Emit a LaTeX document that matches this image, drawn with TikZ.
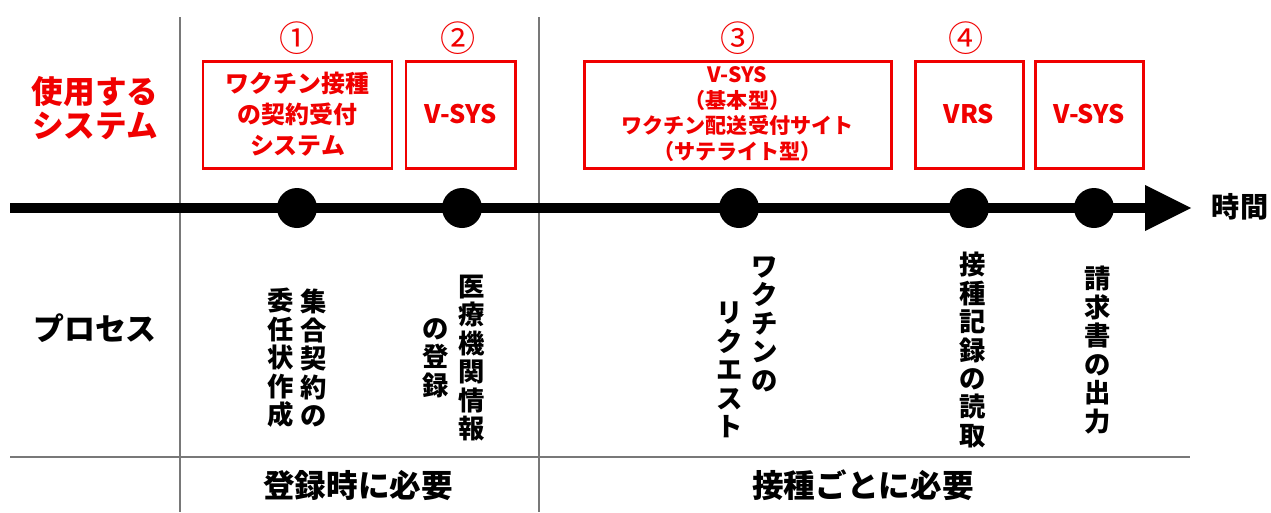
\documentclass[tikz,border=0pt]{standalone}
\usepackage{fontspec}
\setmainfont{Noto Sans CJK JP}
\usetikzlibrary{arrows.meta}
\definecolor{sysred}{RGB}{240,0,0}
\definecolor{rule}{RGB}{120,120,120}
\tikzset{
  sysbox/.style={draw=sysred, line width=1.7pt, inner sep=0pt},
  systext/.style={text=sysred, font=\bfseries\fontsize{13.6}{17.6}\selectfont, align=center, inner sep=0pt},
  smalltext/.style={text=sysred, font=\bfseries\fontsize{12}{14.6}\selectfont, align=center, inner sep=0pt},
  latintext/.style={text=sysred, font=\bfseries\fontsize{14.5}{17}\selectfont, inner sep=0pt},
  numtext/.style={text=sysred, font=\fontsize{20}{22}\selectfont, inner sep=0pt},
  headred/.style={text=sysred, font=\bfseries\fontsize{18}{19}\selectfont, align=center, inner sep=0pt},
  headblack/.style={text=black, font=\bfseries\fontsize{17.6}{19}\selectfont, align=center, inner sep=0pt},
  vcol/.style={text=black, font=\bfseries\fontsize{15}{16.2}\selectfont, align=center, inner sep=0pt},
  foot/.style={text=black, font=\bfseries\fontsize{18}{19}\selectfont, inner sep=0pt},
  dot/.style={circle, fill=black, minimum size=0.8cm, inner sep=0pt},
  grid/.style={draw=rule, line width=0.9pt},
  timeline/.style={line width=5.7pt, -{Triangle[length=0.94cm,width=0.86cm]}}
}
\begin{document}
\begin{tikzpicture}[x=0.02cm, y=-0.02cm]
\useasboundingbox (0,0) rectangle (1271,512);
% grid lines
\draw[grid] (180,17) -- (180,512);
\draw[grid] (539,17) -- (539,512);
\draw[grid] (10,457) -- (1190,457);
% timeline
\coordinate (tstart) at (10,208);
\coordinate (tend) at (1192,208);
\draw[timeline] (tstart) -- (tend);
\node[text=black, font=\bfseries\fontsize{16}{18}\selectfont, inner sep=0pt] (time) at (1240,207) {時間};
% dots
\node[dot] (d1) at (297,208) {};
\node[dot] (d2) at (462,208) {};
\node[dot] (d3) at (739,208) {};
\node[dot] (d4) at (969,208) {};
\node[dot] (d5) at (1094,208) {};
% left headings
\node[headred] (use) at (95,108) {使用する\\システム};
\node[headblack] (proc) at (95,328) {プロセス};
% circled numbers
\node[numtext] (n1) at (297,38) {①};
\node[numtext] (n2) at (458,38) {②};
\node[numtext] (n3) at (738,38) {③};
\node[numtext] (n4) at (966,38) {④};
% system boxes
\draw[sysbox] (203,61) rectangle (392,168);
\node[systext] (b1) at (297.5,114) {ワクチン接種\\の契約受付\\システム};
\draw[sysbox] (406,61) rectangle (515,168);
\node[latintext] (b2) at (460.5,114) {V-SYS};
\draw[sysbox] (584,61) rectangle (891,168);
\node[smalltext] (b3) at (737.5,114) {V-SYS\\（基本型）\\ワクチン配送受付サイト\\（サテライト型）};
\draw[sysbox] (915,61) rectangle (1023,168);
\node[latintext] (b4) at (969,114) {VRS};
\draw[sysbox] (1035,61) rectangle (1143,168);
\node[latintext] (b5) at (1089,114) {V-SYS};
% vertical process texts
\node[vcol] (p1a) at (314,358) {集\\合\\契\\約\\の};
\node[vcol] (p1b) at (281,358) {委\\任\\状\\作\\成};
\node[vcol] (p2a) at (472,358) {医\\療\\機\\関\\情\\報};
\node[vcol] (p2b) at (436,358) {の\\登\\録};
\node[vcol] (p3a) at (765,324) {ワ\\ク\\チ\\ン\\の};
\node[vcol] (p3b) at (730,370) {リ\\ク\\エ\\ス\\ト};
\node[vcol] (p4) at (973,350) {接\\種\\記\\録\\の\\読\\取};
\node[vcol] (p5) at (1098,350) {請\\求\\書\\の\\出\\力};
% footer
\node[foot] (f1) at (358,485) {登録時に必要};
\node[foot] (f2) at (863,485) {接種ごとに必要};
\end{tikzpicture}
\end{document}
